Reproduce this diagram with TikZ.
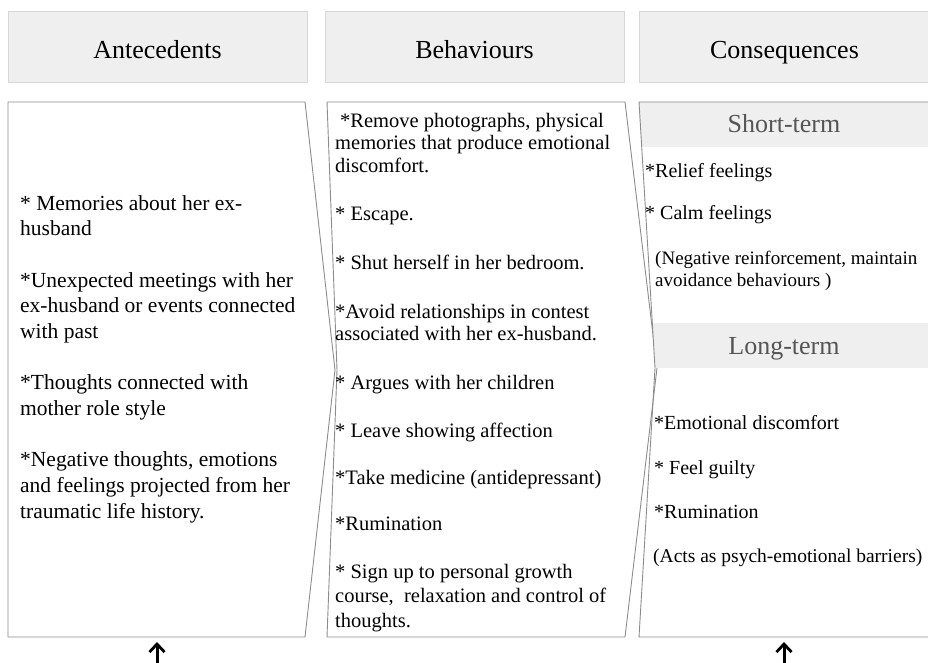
\documentclass[tikz,border=0pt]{standalone}
\usepackage{fontspec}
\setmainfont{Liberation Serif}
\usetikzlibrary{arrows.meta}
\definecolor{hdrfill}{HTML}{EFEFEF}
\definecolor{hdrline}{HTML}{D8D8D8}
\definecolor{panelline}{HTML}{8C8C8C}
\definecolor{subtext}{HTML}{555555}
\begin{document}
\begin{tikzpicture}[x=1pt,y=-1pt,
  hdr/.style={draw=hdrline, fill=hdrfill, line width=0.8pt, minimum height=71pt, inner sep=0pt, text height=24pt, text depth=0pt, font=\fontsize{26}{30}\selectfont},
  panel/.style={draw=panelline, line width=0.9pt, line join=miter},
  bodyA/.style={anchor=north west, inner sep=0pt, align=left, font=\fontsize{21.5}{25.67}\selectfont},
  bodyB/.style={anchor=north west, inner sep=0pt, align=left, font=\fontsize{20.5}{22.5}\selectfont},
  bodyC/.style={anchor=north west, inner sep=0pt, align=left, font=\fontsize{20}{22}\selectfont},
  subhdr/.style={inner sep=0pt, text=subtext, text height=17pt, text depth=5pt, font=\fontsize{26}{30}\selectfont},
  uparrow/.style={line width=3pt, -{Straight Barb[length=8pt,width=15pt,line width=2.8pt]}}]
\useasboundingbox (0,0) rectangle (928,663);
\clip (0,0) rectangle (928,663);

% headers
\node[hdr, minimum width=299pt] (hA) at (157.5,46.5) {Antecedents};
\node[hdr, minimum width=299pt] (hB) at (474.5,46.5) {Behaviours};
\node[hdr, minimum width=291pt] (hC) at (784.5,46.5) {Consequences};

% panel 1
\draw[panel] (8,102) -- (305,102) -- (335,370) -- (305,637) -- (8,637) -- cycle;
% panel 2
\draw[panel] (327,102) -- (625,102) -- (657,368) -- (625,637) -- (327,637) -- (337,370) -- cycle;
% panel 3 bands
\begin{scope}
  \clip (639,102) -- (940,102) -- (940,637) -- (639,637) -- (655,368) -- cycle;
  \fill[hdrfill] (600,102) rectangle (940,147);
  \fill[hdrfill] (600,323) rectangle (940,368);
\end{scope}
\draw[panel] (639,102) -- (940,102) -- (940,637) -- (639,637) -- (655,368) -- cycle;

\node[subhdr] (st) at (784,127) {Short-term};
\node[subhdr] (lt) at (784,348) {Long-term};

% column 1
\node[bodyA] (a1) at (20,195) {* Memories about her ex-\\husband\\[25.67pt]
*Unexpected meetings with her\\ex-husband or events connected\\with past\\[25.67pt]
*Thoughts connected with\\mother role style\\[25.67pt]
*Negative thoughts, emotions\\and feelings projected from her\\traumatic life history.};

% column 2
\node[bodyB] (b1) at (335,113) {\hspace*{5pt}*Remove photographs, physical\\memories that produce emotional\\discomfort.};
\node[bodyB] (b2) at (335,207) {* Escape.};
\node[bodyB] (b3) at (335,255) {* Shut herself in her bedroom.};
\node[bodyB] (b4) at (335,304) {*Avoid relationships in contest\\associated with her ex-husband.};
\node[bodyB] (b5) at (335,375) {* Argues with her children};
\node[bodyB] (b6) at (335,423) {* Leave showing affection};
\node[bodyB] (b7) at (335,470) {*Take medicine (antidepressant)};
\node[bodyB] (b8) at (335,517) {*Rumination};
\node[bodyB, font=\fontsize{20.5}{24.5}\selectfont] (b9) at (335,564) {* Sign up to personal growth\\course,~ relaxation and control of\\thoughts.};

% column 3
\node[bodyC] (c1) at (645,163) {*Relief feelings};
\node[bodyC] (c2) at (645,205) {* Calm feelings};
\node[bodyC, font=\fontsize{19}{22}\selectfont] (c3) at (655,251) {(Negative reinforcement, maintain\\avoidance behaviours )};
\node[bodyC] (c4) at (654,415) {*Emotional discomfort};
\node[bodyC] (c5) at (654,460) {* Feel guilty};
\node[bodyC] (c6) at (654,505) {*Rumination};
\node[bodyC, font=\fontsize{19.5}{22}\selectfont] (c7) at (653,549) {(Acts as psych-emotional barriers)};

% arrows
\coordinate (t1) at (157,663);
\coordinate (p1) at (157,642);
\coordinate (t3) at (784,663);
\coordinate (p3) at (784,642);
\draw[uparrow] (t1) -- (p1);
\draw[uparrow] (t3) -- (p3);
\end{tikzpicture}
\end{document}
